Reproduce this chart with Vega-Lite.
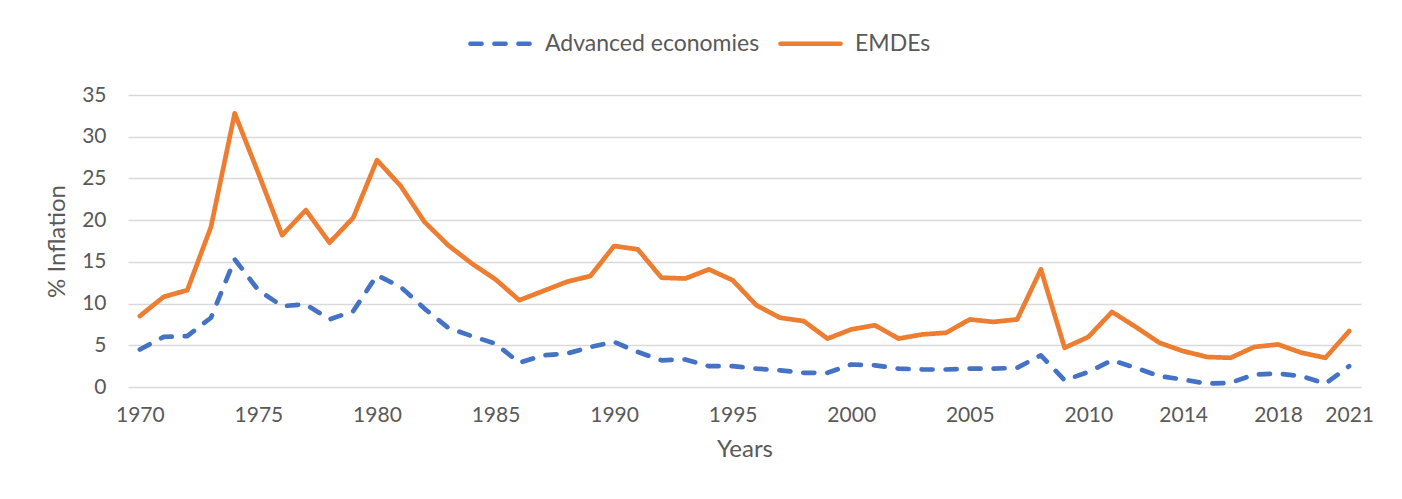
{
  "$schema": "https://vega.github.io/schema/vega-lite/v6.json",
  "width": 1233,
  "height": 292,
  "autosize": {"type": "none"},
  "padding": {"left": 128, "top": 95, "right": 41, "bottom": 112},
  "background": "white",
  "config": {
    "view": {"stroke": null},
    "font": "Lato",
    "axis": {"labelColor": "#595959", "titleColor": "#595959", "labelFontSize": 21, "titleFontSize": 24, "titleFontWeight": "normal", "labelFont": "Lato", "titleFont": "Lato"},
    "legend": {"labelColor": "#595959", "labelFontSize": 23, "labelFont": "Lato", "labelLimit": 400}
  },
  "data": {
    "values": [
      {"year": 1970, "series": "Advanced economies", "value": 4.5},
      {"year": 1971, "series": "Advanced economies", "value": 6.0},
      {"year": 1972, "series": "Advanced economies", "value": 6.1},
      {"year": 1973, "series": "Advanced economies", "value": 8.3},
      {"year": 1974, "series": "Advanced economies", "value": 15.3},
      {"year": 1975, "series": "Advanced economies", "value": 11.6},
      {"year": 1976, "series": "Advanced economies", "value": 9.7},
      {"year": 1977, "series": "Advanced economies", "value": 9.9},
      {"year": 1978, "series": "Advanced economies", "value": 8.1},
      {"year": 1979, "series": "Advanced economies", "value": 9.1},
      {"year": 1980, "series": "Advanced economies", "value": 13.4},
      {"year": 1981, "series": "Advanced economies", "value": 12.0},
      {"year": 1982, "series": "Advanced economies", "value": 9.4},
      {"year": 1983, "series": "Advanced economies", "value": 7.1},
      {"year": 1984, "series": "Advanced economies", "value": 6.1},
      {"year": 1985, "series": "Advanced economies", "value": 5.2},
      {"year": 1986, "series": "Advanced economies", "value": 2.9},
      {"year": 1987, "series": "Advanced economies", "value": 3.8},
      {"year": 1988, "series": "Advanced economies", "value": 4.0},
      {"year": 1989, "series": "Advanced economies", "value": 4.8},
      {"year": 1990, "series": "Advanced economies", "value": 5.4},
      {"year": 1991, "series": "Advanced economies", "value": 4.2},
      {"year": 1992, "series": "Advanced economies", "value": 3.2},
      {"year": 1993, "series": "Advanced economies", "value": 3.3},
      {"year": 1994, "series": "Advanced economies", "value": 2.5},
      {"year": 1995, "series": "Advanced economies", "value": 2.5},
      {"year": 1996, "series": "Advanced economies", "value": 2.2},
      {"year": 1997, "series": "Advanced economies", "value": 2.0},
      {"year": 1998, "series": "Advanced economies", "value": 1.7},
      {"year": 1999, "series": "Advanced economies", "value": 1.7},
      {"year": 2000, "series": "Advanced economies", "value": 2.7},
      {"year": 2001, "series": "Advanced economies", "value": 2.6},
      {"year": 2002, "series": "Advanced economies", "value": 2.2},
      {"year": 2003, "series": "Advanced economies", "value": 2.1},
      {"year": 2004, "series": "Advanced economies", "value": 2.1},
      {"year": 2005, "series": "Advanced economies", "value": 2.2},
      {"year": 2006, "series": "Advanced economies", "value": 2.2},
      {"year": 2007, "series": "Advanced economies", "value": 2.3},
      {"year": 2008, "series": "Advanced economies", "value": 3.8},
      {"year": 2009, "series": "Advanced economies", "value": 0.8},
      {"year": 2010, "series": "Advanced economies", "value": 1.8},
      {"year": 2011, "series": "Advanced economies", "value": 3.2},
      {"year": 2012, "series": "Advanced economies", "value": 2.3},
      {"year": 2013, "series": "Advanced economies", "value": 1.3},
      {"year": 2014, "series": "Advanced economies", "value": 0.9},
      {"year": 2015, "series": "Advanced economies", "value": 0.4},
      {"year": 2016, "series": "Advanced economies", "value": 0.5},
      {"year": 2017, "series": "Advanced economies", "value": 1.5},
      {"year": 2018, "series": "Advanced economies", "value": 1.6},
      {"year": 2019, "series": "Advanced economies", "value": 1.3},
      {"year": 2020, "series": "Advanced economies", "value": 0.4},
      {"year": 2021, "series": "Advanced economies", "value": 2.5},
      {"year": 1970, "series": "EMDEs", "value": 8.5},
      {"year": 1971, "series": "EMDEs", "value": 10.8},
      {"year": 1972, "series": "EMDEs", "value": 11.6},
      {"year": 1973, "series": "EMDEs", "value": 19.2},
      {"year": 1974, "series": "EMDEs", "value": 32.8},
      {"year": 1975, "series": "EMDEs", "value": 25.6},
      {"year": 1976, "series": "EMDEs", "value": 18.2},
      {"year": 1977, "series": "EMDEs", "value": 21.2},
      {"year": 1978, "series": "EMDEs", "value": 17.3},
      {"year": 1979, "series": "EMDEs", "value": 20.3},
      {"year": 1980, "series": "EMDEs", "value": 27.2},
      {"year": 1981, "series": "EMDEs", "value": 24.1},
      {"year": 1982, "series": "EMDEs", "value": 19.8},
      {"year": 1983, "series": "EMDEs", "value": 17.0},
      {"year": 1984, "series": "EMDEs", "value": 14.8},
      {"year": 1985, "series": "EMDEs", "value": 12.9},
      {"year": 1986, "series": "EMDEs", "value": 10.4},
      {"year": 1987, "series": "EMDEs", "value": 11.5},
      {"year": 1988, "series": "EMDEs", "value": 12.6},
      {"year": 1989, "series": "EMDEs", "value": 13.3},
      {"year": 1990, "series": "EMDEs", "value": 16.9},
      {"year": 1991, "series": "EMDEs", "value": 16.5},
      {"year": 1992, "series": "EMDEs", "value": 13.1},
      {"year": 1993, "series": "EMDEs", "value": 13.0},
      {"year": 1994, "series": "EMDEs", "value": 14.1},
      {"year": 1995, "series": "EMDEs", "value": 12.8},
      {"year": 1996, "series": "EMDEs", "value": 9.8},
      {"year": 1997, "series": "EMDEs", "value": 8.3},
      {"year": 1998, "series": "EMDEs", "value": 7.9},
      {"year": 1999, "series": "EMDEs", "value": 5.8},
      {"year": 2000, "series": "EMDEs", "value": 6.9},
      {"year": 2001, "series": "EMDEs", "value": 7.4},
      {"year": 2002, "series": "EMDEs", "value": 5.8},
      {"year": 2003, "series": "EMDEs", "value": 6.3},
      {"year": 2004, "series": "EMDEs", "value": 6.5},
      {"year": 2005, "series": "EMDEs", "value": 8.1},
      {"year": 2006, "series": "EMDEs", "value": 7.8},
      {"year": 2007, "series": "EMDEs", "value": 8.1},
      {"year": 2008, "series": "EMDEs", "value": 14.1},
      {"year": 2009, "series": "EMDEs", "value": 4.7},
      {"year": 2010, "series": "EMDEs", "value": 6.0},
      {"year": 2011, "series": "EMDEs", "value": 9.0},
      {"year": 2012, "series": "EMDEs", "value": 7.2},
      {"year": 2013, "series": "EMDEs", "value": 5.3},
      {"year": 2014, "series": "EMDEs", "value": 4.3},
      {"year": 2015, "series": "EMDEs", "value": 3.6},
      {"year": 2016, "series": "EMDEs", "value": 3.5},
      {"year": 2017, "series": "EMDEs", "value": 4.8},
      {"year": 2018, "series": "EMDEs", "value": 5.1},
      {"year": 2019, "series": "EMDEs", "value": 4.1},
      {"year": 2020, "series": "EMDEs", "value": 3.5},
      {"year": 2021, "series": "EMDEs", "value": 6.7}
    ]
  },
  "mark": {"type": "line", "strokeWidth": 4.7, "strokeCap": "round", "strokeJoin": "round"},
  "encoding": {
    "x": {
      "field": "year", "type": "quantitative",
      "scale": {"domain": [1969.5, 2021.5], "nice": false, "zero": false},
      "axis": {"values": [1970, 1975, 1980, 1985, 1990, 1995, 2000, 2005, 2010, 2014, 2018, 2021], "format": "d", "title": "Years", "grid": false, "domain": false, "ticks": false, "labelPadding": 17, "titlePadding": 12, "labelFlush": false, "labelOverlap": false}
    },
    "y": {
      "field": "value", "type": "quantitative",
      "scale": {"domain": [0, 35], "nice": false},
      "axis": {"values": [0, 5, 10, 15, 20, 25, 30, 35], "title": "% Inflation", "domain": false, "ticks": false, "gridColor": "#D9D9D9", "gridWidth": 1.3, "labelPadding": 22, "titlePadding": 12}
    },
    "color": {
      "field": "series", "type": "nominal",
      "scale": {"domain": ["Advanced economies", "EMDEs"], "range": ["#4472C4", "#ED7D31"]},
      "legend": {"title": null, "orient": "none", "direction": "horizontal", "legendX": 340, "legendY": -84, "symbolType": "stroke", "symbolSize": 3600, "symbolStrokeWidth": 4.7, "labelOffset": 12, "columnPadding": 11, "encode": {"symbols": {"update": {"strokeCap": {"value": "round"}}}}}
    },
    "strokeDash": {
      "field": "series", "type": "nominal",
      "scale": {"domain": ["Advanced economies", "EMDEs"], "range": [[11, 13], [1, 0]]},
      "legend": {"title": null, "orient": "none", "direction": "horizontal", "legendX": 340, "legendY": -84, "symbolType": "stroke", "symbolSize": 3600, "symbolStrokeWidth": 4.7, "labelOffset": 12, "columnPadding": 11, "encode": {"symbols": {"update": {"strokeCap": {"value": "round"}}}}}
    }
  }
}
